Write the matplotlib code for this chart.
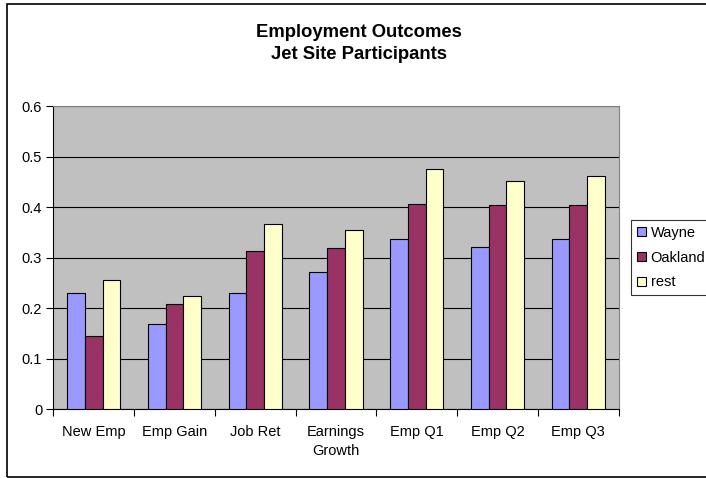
import numpy as np
import matplotlib.pyplot as plt
from matplotlib.patches import Rectangle

plt.rcParams['font.family'] = ['Liberation Sans', 'DejaVu Sans']

categories = ["New Emp", "Emp Gain", "Job Ret", "Earnings\nGrowth", "Emp Q1", "Emp Q2", "Emp Q3"]
wayne = [0.231, 0.168, 0.231, 0.272, 0.336, 0.322, 0.336]
oakland = [0.146, 0.208, 0.313, 0.319, 0.406, 0.404, 0.404]
rest = [0.256, 0.224, 0.366, 0.354, 0.475, 0.452, 0.462]

series = [("Wayne", wayne, "#9999FF"),
          ("Oakland", oakland, "#993366"),
          ("rest", rest, "#FFFFCC")]

fig = plt.figure(figsize=(7.06, 4.78), dpi=100)
ax = fig.add_axes([0.0755, 0.1437, 0.8008, 0.6345])
ax.set_facecolor("#C0C0C0")

x = np.arange(len(categories))
w = 0.22
for i, (name, vals, col) in enumerate(series):
    ax.bar(x + (i - 1) * w, vals, w, color=col, edgecolor="black",
           linewidth=0.8, label=name, zorder=3)

ax.set_xlim(-0.5, len(categories) - 0.5)
ax.set_ylim(0, 0.6)
ax.set_yticks(np.arange(0, 0.61, 0.1))
ax.set_yticklabels(["0", "0.1", "0.2", "0.3", "0.4", "0.5", "0.6"], fontsize=10.5)
ax.yaxis.grid(True, color="black", linewidth=0.8, zorder=1)
ax.set_axisbelow(True)

# category labels centred, tick marks on the boundaries
ax.set_xticks(np.arange(-0.5, len(categories), 1.0))
ax.set_xticklabels([])
ax.set_xticks(x, minor=True)
ax.set_xticklabels(categories, minor=True, fontsize=10.5, linespacing=1.45)
ax.tick_params(axis="x", which="minor", length=0, pad=11)
ax.tick_params(axis="x", which="major", length=5, direction="out", width=0.8)
ax.tick_params(axis="y", length=5, direction="out", width=0.8, pad=3)

for s in ["top", "right"]:
    ax.spines[s].set_color("#808080")
    ax.spines[s].set_linewidth(0.8)
for s in ["left", "bottom"]:
    ax.spines[s].set_color("black")
    ax.spines[s].set_linewidth(0.8)

fig.text(0.508, 0.933, "Employment Outcomes", ha="center", va="center",
         fontsize=13.3, fontweight="bold")
fig.text(0.508, 0.885, "Jet Site Participants", ha="center", va="center",
         fontsize=13.3, fontweight="bold")

leg = fig.legend(loc="upper left", bbox_to_anchor=(631 / 706, 1 - 220 / 478),
                 fontsize=10.5, frameon=True, fancybox=False, edgecolor="black",
                 handlelength=0.6, handleheight=0.6, handletextpad=0.35,
                 labelspacing=0.74, borderpad=0.4, borderaxespad=0)
leg.get_frame().set_linewidth(0.8)

# outer chart border
fig.patches.append(Rectangle((7 / 706, 1 / 478), 1.0, 473 / 478,
                             transform=fig.transFigure, fill=False,
                             edgecolor="black", linewidth=1.2))

fig.savefig("out.png", dpi=100)
